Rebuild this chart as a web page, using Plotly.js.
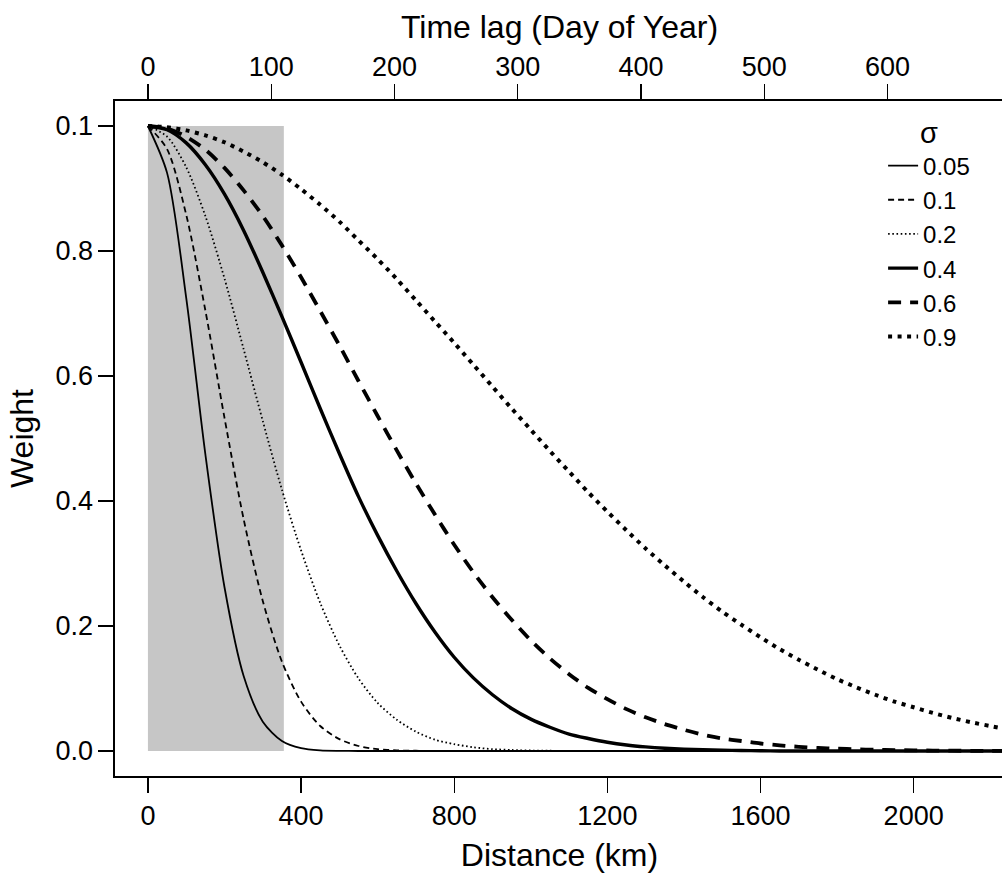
<!DOCTYPE html>
<html>
<head>
<meta charset="utf-8">
<script src="https://cdn.plot.ly/plotly-3.0.1.min.js"></script>
<style>
html,body{margin:0;padding:0;background:#fff;overflow:hidden;}
#chart{width:1010px;height:876px;}
</style>
</head>
<body>
<div id="chart"></div>
<script>
// Distance (km) at which each weight curve was read
const distanceKm = [0,50,100,150,200,250,300,350,400,450,500,550,600,650,700,750,800,850,900,950,1000,1050,1100,1150,1200,1250,1300,1350,1400,1450,1500,1550,1600,1650,1700,1750,1800,1850,1900,1950,2000,2050,2100,2150,2200,2250];

// Weights, one array per sigma
const w005 = [1,0.925,0.725,0.475,0.262,0.120,0.047,0.016,0.0045,0.001,0.0002,0,0,0,0,0,0,0,0,0,0,0,0,0,0,0,0,0,0,0,0,0,0,0,0,0,0,0,0,0,0,0,0,0,0,0];
const w01 = [1,0.963,0.858,0.705,0.533,0.371,0.240,0.143,0.079,0.040,0.019,0.008,0.003,0.001,0.0004,0,0,0,0,0,0,0,0,0,0,0,0,0,0,0,0,0,0,0,0,0,0,0,0,0,0,0,0,0,0,0];
const w02 = [1,0.983,0.934,0.856,0.756,0.643,0.528,0.418,0.321,0.237,0.169,0.116,0.077,0.050,0.031,0.018,0.011,0.006,0.003,0.0016,0.0008,0.0004,0,0,0,0,0,0,0,0,0,0,0,0,0,0,0,0,0,0,0,0,0,0,0,0];
const w04 = [1,0.994,0.973,0.938,0.891,0.833,0.766,0.695,0.622,0.548,0.476,0.407,0.345,0.288,0.236,0.190,0.150,0.117,0.090,0.068,0.051,0.038,0.027,0.020,0.014,0.0096,0.0066,0.0044,0.0029,0.0019,0.0012,0.0008,0.0005,0,0,0,0,0,0,0,0,0,0,0,0,0];
const w06 = [1,0.996,0.983,0.962,0.933,0.897,0.856,0.809,0.758,0.704,0.649,0.592,0.536,0.481,0.428,0.378,0.330,0.286,0.246,0.210,0.177,0.148,0.123,0.101,0.083,0.067,0.054,0.043,0.034,0.026,0.020,0.016,0.012,0.009,0.0067,0.0050,0.0037,0.0027,0.0019,0.0014,0.0010,0.0007,0.0005,0.0003,0.0002,0.0002];
const w09 = [1,0.998,0.993,0.985,0.974,0.959,0.942,0.922,0.899,0.874,0.847,0.817,0.787,0.755,0.721,0.687,0.653,0.618,0.583,0.548,0.514,0.480,0.447,0.414,0.383,0.353,0.324,0.297,0.271,0.246,0.223,0.202,0.182,0.163,0.146,0.130,0.115,0.102,0.090,0.079,0.070,0.061,0.053,0.046,0.040,0.034];

const sigmaLabels = ["0.05","0.1","0.2","0.4","0.6","0.9"];

// Shaded window (km, weight)
const shadeKm = [0, 355];
const shadeWeight = [0, 1];

// Axis ticks
const distanceTicks = [0,400,800,1200,1600,2000];
const dayTicks = [0,100,200,300,400,500,600];
const weightTicks = [0,0.2,0.4,0.6,0.8,1.0];
const weightTickText = ["0.0","0.2","0.4","0.6","0.8","0.1"];

const series = [w005, w01, w02, w04, w06, w09];
const styles = [
  {width:1.8, dash:"solid"},
  {width:1.8, dash:"6px,4px"},
  {width:1.8, dash:"1.6px,2.6px"},
  {width:3.4, dash:"solid"},
  {width:3.8, dash:"13px,9px"},
  {width:4.0, dash:"4px,5.5px"}
];

const traces = series.map((w, i) => ({
  type: "scatter",
  mode: "lines",
  x: distanceKm,
  y: w,
  name: sigmaLabels[i],
  line: {color: "#000", width: styles[i].width, dash: styles[i].dash, shape: "spline", smoothing: 0.8},
  hoverinfo: "skip"
}));

const FONT = "Liberation Sans, Arial, Helvetica, sans-serif";

const layout = {
  width: 1010,
  height: 876,
  margin: {l: 115, r: 6, t: 101, b: 100},
  paper_bgcolor: "#fff",
  plot_bgcolor: "#fff",
  font: {family: FONT, color: "#000", size: 27},
  showlegend: true,
  legend: {
    x: 0.864, xanchor: "left",
    y: 0.993, yanchor: "top",
    bgcolor: "rgba(0,0,0,0)",
    borderwidth: 0,
    font: {family: FONT, size: 24, color: "#000"},
    title: {text: "σ", side: "top center", font: {family: FONT, size: 29, color: "#000"}},
    itemwidth: 30
  },
  xaxis: {
    range: [-86, 2236],
    tickvals: distanceTicks,
    ticktext: distanceTicks.map(String),
    ticks: "outside", ticklen: 15, tickwidth: 1.4, tickcolor: "#000",
    showline: true, linecolor: "#000", linewidth: 1.6, mirror: true,
    showgrid: false, zeroline: false,
    tickfont: {family: FONT, size: 27, color: "#000"},
    title: {text: "Distance (km)", font: {family: FONT, size: 32, color: "#000"}, standoff: 13},
    fixedrange: true
  },
  xaxis2: {
    overlaying: "x",
    side: "top",
    anchor: "y",
    range: [-26.7, 694.4],
    tickvals: dayTicks,
    ticktext: dayTicks.map(String),
    ticks: "outside", ticklen: 16, tickwidth: 1.4, tickcolor: "#000",
    ticklabelstandoff: -3,
    showline: false, showgrid: false, zeroline: false,
    tickfont: {family: FONT, size: 27, color: "#000"},
    title: {text: "Time lag (Day of Year)", font: {family: FONT, size: 32, color: "#000"}, standoff: 4},
    fixedrange: true
  },
  yaxis: {
    range: [-0.04, 1.04],
    tickvals: weightTicks,
    ticktext: weightTickText,
    ticks: "outside", ticklen: 15, tickwidth: 1.4, tickcolor: "#000",
    showline: true, linecolor: "#000", linewidth: 1.6, mirror: true,
    showgrid: false, zeroline: false,
    tickfont: {family: FONT, size: 27, color: "#000"},
    title: {text: "Weight", font: {family: FONT, size: 32, color: "#000"}, standoff: 12},
    fixedrange: true
  },
  shapes: [{
    type: "rect", layer: "below", xref: "x", yref: "y",
    x0: shadeKm[0], x1: shadeKm[1], y0: shadeWeight[0], y1: shadeWeight[1],
    fillcolor: "#c6c6c6", line: {width: 0}
  }]
};

// invisible trace to carry the top (day) axis
traces.push({type: "scatter", mode: "markers", x: [dayTicks[0]], y: [0], xaxis: "x2", yaxis: "y",
  marker: {opacity: 0}, showlegend: false, hoverinfo: "skip"});

Plotly.newPlot("chart", traces, layout, {displayModeBar: false, staticPlot: true});
</script>
</body>
</html>
